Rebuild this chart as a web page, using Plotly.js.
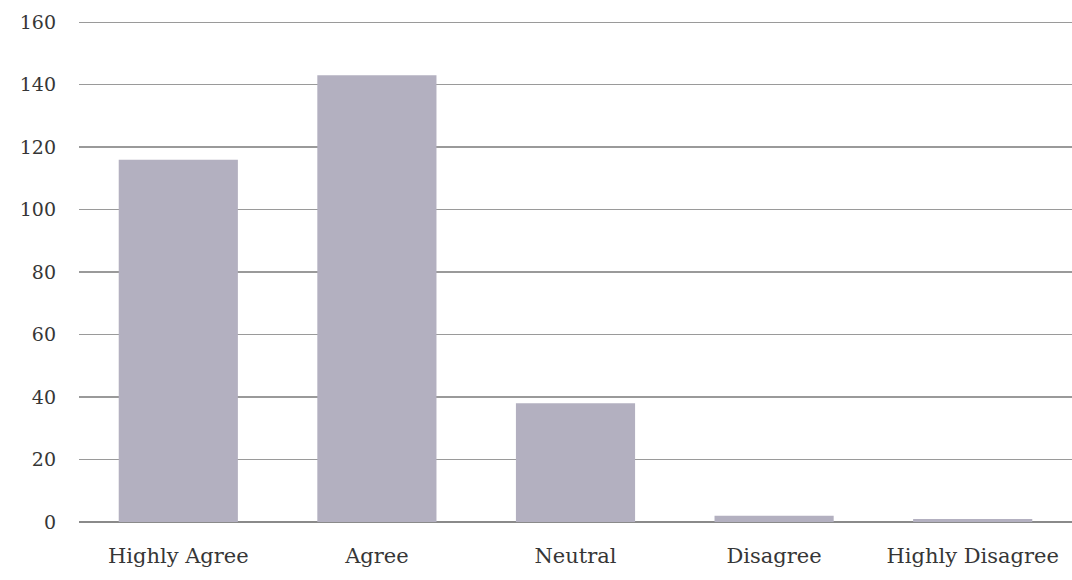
<!DOCTYPE html>
<html>
<head>
<meta charset="utf-8">
<script src="https://cdn.plot.ly/plotly-3.0.1.min.js"></script>
<style>html,body{margin:0;padding:0;background:#fff;}#chart{width:1072px;height:580px;}</style>
</head>
<body>
<div id="chart"></div>
<script>
const categories = ["Highly Agree", "Agree", "Neutral", "Disagree", "Highly Disagree"];
const counts = [116, 143, 38, 2, 1];
const yTicks = [0, 20, 40, 60, 80, 100, 120, 140, 160];

const trace = {
  type: "bar",
  x: categories,
  y: counts,
  width: 0.6,
  marker: { color: "#b3b0c0", line: { width: 0 } },
  hoverinfo: "x+y"
};

const layout = {
  width: 1072,
  height: 580,
  margin: { l: 79, r: 0, t: 16, b: 58 },
  paper_bgcolor: "#ffffff",
  plot_bgcolor: "#ffffff",
  showlegend: false,
  font: { family: "DejaVu Serif, Liberation Serif, serif", size: 20, color: "#363636" },
  xaxis: {
    type: "category",
    showgrid: false,
    showline: false,
    zeroline: false,
    ticks: "",
    ticklabelstandoff: 19,
    tickfont: { size: 21, color: "#363636" }
  },
  yaxis: {
    range: [0, 162],
    tickvals: yTicks,
    showgrid: true,
    gridcolor: "#9a9a9a",
    gridwidth: 1.5,
    zeroline: true,
    zerolinecolor: "#8a8a8a",
    zerolinewidth: 1.5,
    showline: false,
    ticks: "",
    ticklabelstandoff: 22,
    tickfont: { size: 19, color: "#363636" }
  },
  bargap: 0.4
};

Plotly.newPlot("chart", [trace], layout, { displayModeBar: false, staticPlot: true });
</script>
</body>
</html>
